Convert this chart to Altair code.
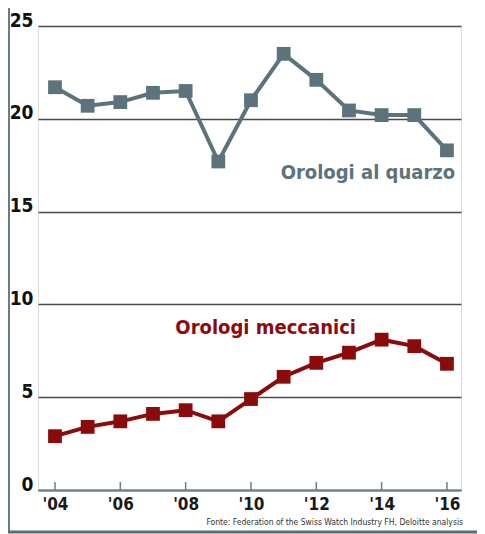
import altair as alt
import pandas as pd

years = list(range(2004, 2017))
quarzo = [21.7, 20.7, 20.9, 21.4, 21.5, 17.7, 21.0, 23.5, 22.1, 20.45, 20.2, 20.2, 18.3]
meccanici = [2.9, 3.4, 3.7, 4.1, 4.3, 3.7, 4.9, 6.1, 6.85, 7.4, 8.1, 7.75, 6.8]
series_names = ["Orologi al quarzo", "Orologi meccanici"]
series_colors = ["#5c737c", "#8a0b0b"]
tick_years = [2004, 2006, 2008, 2010, 2012, 2014, 2016]
y_ticks = [0, 5, 10, 15, 20, 25]
source_text = "Fonte: Federation of the Swiss Watch Industry FH, Deloitte analysis"

FONT = "DejaVu Sans Condensed, Liberation Sans, sans-serif"

df = pd.DataFrame({
    "anno": years * 2,
    "valore": quarzo + meccanici,
    "serie": [series_names[0]] * len(years) + [series_names[1]] * len(years),
})

labels = pd.DataFrame({
    "anno": [2016.25, 2010.45],
    "valore": [17.1, 8.75],
    "serie": series_names,
    "align": ["right", "center"],
})

ticks_df = pd.DataFrame({"anno": tick_years})

xscale = alt.Scale(domain=[2003.48, 2016.43], nice=False, zero=False)
yscale = alt.Scale(domain=[0, 25], nice=False)
color = alt.Color("serie:N", scale=alt.Scale(domain=series_names, range=series_colors), legend=None)

W, H = 423, 464

base = alt.Chart(df).encode(
    x=alt.X("anno:Q", scale=xscale,
            axis=alt.Axis(values=tick_years, labelExpr="\"'\" + substring(toString(datum.value), 2)",
                          title=None, grid=False, ticks=False, domain=True,
                          domainColor="#6b7c83", domainWidth=2,
                          labelFont=FONT, labelFontWeight="bold", labelFontSize=17,
                          labelColor="#1a1a1a", labelPadding=6)),
    y=alt.Y("valore:Q", scale=yscale,
            axis=alt.Axis(values=y_ticks, title=None, grid=True, gridColor="#4a4a4a",
                          gridWidth=1.3, ticks=False, domain=False,
                          labelFont=FONT, labelFontWeight="bold", labelFontSize=19,
                          labelColor="#111111", labelPadding=5, labelBaseline="alphabetic")),
    color=color,
)

lines = base.mark_line(strokeWidth=4)
points = base.mark_point(shape="square", filled=True, size=190, opacity=1)

tick_marks = alt.Chart(ticks_df).mark_rule(color="#6b7c83", strokeWidth=1.5).encode(
    x=alt.X("anno:Q", scale=xscale),
    y=alt.value(H - 8),
    y2=alt.value(H),
)

label_right = alt.Chart(labels[labels["align"] == "right"]).mark_text(
    font=FONT, fontWeight="bold", fontSize=20, align="right", baseline="middle"
).encode(x=alt.X("anno:Q", scale=xscale), y=alt.Y("valore:Q", scale=yscale), text="serie:N", color=color)

label_center = alt.Chart(labels[labels["align"] == "center"]).mark_text(
    font=FONT, fontWeight="bold", fontSize=20, align="center", baseline="middle"
).encode(x=alt.X("anno:Q", scale=xscale), y=alt.Y("valore:Q", scale=yscale), text="serie:N", color=color)

source = alt.Chart(pd.DataFrame({"t": [source_text]})).mark_text(
    font=FONT, fontSize=8.5, align="right", baseline="middle", color="#333333"
).encode(x=alt.value(W + 2), y=alt.value(H + 32), text="t:N")

left_border = alt.Chart(pd.DataFrame({"t": [0]})).mark_rule(color="#6b7c83", strokeWidth=2).encode(
    x=alt.value(-29), y=alt.value(-26), y2=alt.value(H + 42)
)
bottom_border = alt.Chart(pd.DataFrame({"t": [0]})).mark_rule(color="#5a6b72", strokeWidth=3).encode(
    x=alt.value(-30), x2=alt.value(W + 16), y=alt.value(H + 42)
)

chart = alt.layer(
    lines, points, tick_marks, label_right, label_center, source, left_border, bottom_border
).properties(
    width=W, height=H,
    autosize=alt.AutoSizeParams(type="none"),
    padding={"left": 30, "top": 18, "right": 16, "bottom": 44},
).configure_view(stroke=None).configure(background="white")

chart.save("out.html", embed_options={"renderer": "svg", "actions": False})
